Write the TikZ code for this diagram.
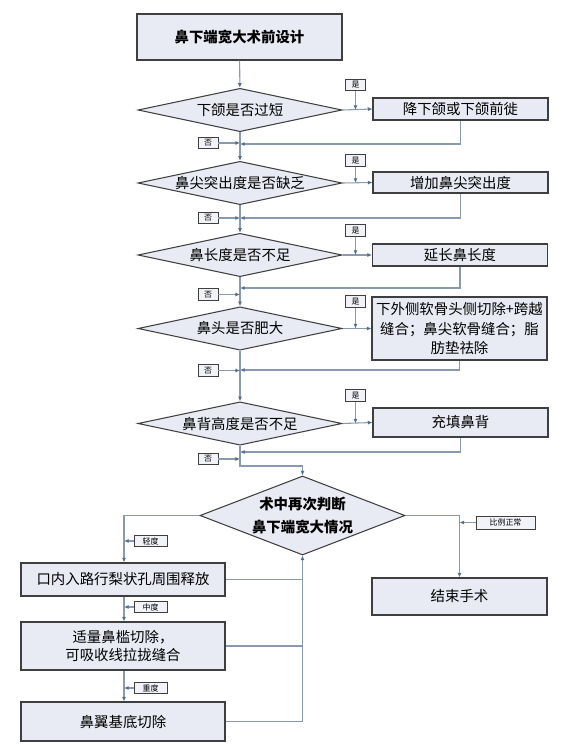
\documentclass[tikz,border=0pt]{standalone}
\usepackage{fontspec}
\setmainfont{Noto Sans CJK SC}
\usetikzlibrary{arrows.meta, shapes.geometric}
\definecolor{boxfill}{HTML}{E8EBF3}
\definecolor{boxline}{HTML}{3F3F3F}
\definecolor{wire}{HTML}{8A9AAE}
\definecolor{tipc}{HTML}{4F6E8E}

\begin{document}
\begin{tikzpicture}[x=0.03cm, y=-0.03cm, font=\fontsize{12.3}{15}\selectfont,
  proc/.style={draw=boxline, line width=0.9pt, fill=boxfill, minimum width=5.25cm, minimum height=0.66cm, inner sep=0pt, align=center},
  ask/.style={diamond, draw=boxline, line width=0.9pt, fill=boxfill, minimum width=6.12cm, minimum height=1.3cm, aspect=4.6, inner sep=0pt, align=center},
  tag/.style={draw=boxline, line width=0.6pt, fill=boxfill!60, font=\fontsize{6.8}{7}\selectfont, minimum width=0.6cm, minimum height=0.34cm, inner sep=0pt},
  flow/.style={wire, line width=0.9pt, -{Latex[length=4pt, width=3.5pt, color=tipc]}},
  link/.style={wire, line width=0.9pt}]

  \useasboundingbox (0,0) rectangle (570,745);

  % --- start ---
  \node[proc, font=\fontsize{12.3}{15}\selectfont\bfseries, minimum width=6.15cm, minimum height=1.38cm] (start) at (239.5,37) {鼻下端宽大术前设计};

  % --- pre-operative checks ---
  \node[ask] (q1) at (240,110) {下颌是否过短};
  \node[proc] (a1) at (460.5,109) {降下颌或下颌前徙};
  \node[ask] (q2) at (240,183) {鼻尖突出度是否缺乏};
  \node[proc, minimum height=0.63cm] (a2) at (460.5,182.5) {增加鼻尖突出度};
  \node[ask] (q3) at (240,255) {鼻长度是否不足};
  \node[proc] (a3) at (460,255) {延长鼻长度};
  \node[ask] (q4) at (240,328.5) {鼻头是否肥大};
  \node[proc, minimum height=1.89cm, font=\fontsize{12.3}{16.5}\selectfont] (a4) at (459.5,328.5) {下外侧软骨头侧切除+跨越\\缝合；鼻尖软骨缝合；脂\\肪垫祛除};
  \node[ask] (q5) at (240,423.5) {鼻背高度是否不足};
  \node[proc, minimum height=0.87cm] (a5) at (460.5,422.5) {充填鼻背};

  % --- yes / no tags ---
  \foreach \i/\ty/\ny in {1/85/143, 2/160.5/218, 3/230.5/294.5, 4/301.5/370.5, 5/395.5/459}{
    \node[tag] (yes\i) at (355.5,\ty) {是};
    \node[tag] (no\i) at (208,\ny) {否};
    \coordinate (yhit\i) at (yes\i |- q\i.east);
    \coordinate (nhit\i) at (240,\ny);
  }
  \coordinate (m1) at (240,144);
  \coordinate (m2) at (240,218);
  \coordinate (m3) at (240,288);
  \coordinate (m4) at (240,370);
  \coordinate (m5) at (240,452);

  \draw[flow] (start) -- (q1);
  \foreach \i/\j in {1/2, 2/3, 3/4, 4/5}{
    \draw[flow] (q\i) -- (q\j);
  }
  \foreach \i in {1,...,5}{
    \draw[flow] (q\i.east) -- (a\i.west);
    \draw[flow] (yes\i) -- (yhit\i);
    \draw[flow] (no\i) -- (nhit\i);
    \draw[flow] (a\i.south) |- (m\i);
  }

  % --- intra-operative check ---
  \node[ask, font=\fontsize{12.3}{19}\selectfont\bfseries, minimum width=6.15cm, minimum height=2.37cm, aspect=2.6] (q6) at (302.5,515.5) {术中再次判断\\鼻下端宽大情况};
  \coordinate (turn) at (240,466);
  \draw[flow] (q5.south) -- (turn) -| (q6.north);

  \node[proc, minimum width=6.12cm, minimum height=0.99cm] (b1) at (123,579.5) {口内入路行梨状孔周围释放};
  \node[proc, minimum width=6.12cm, minimum height=1.44cm] (b2) at (123,646) {适量鼻槛切除，\\可吸收线拉拢缝合};
  \node[proc, minimum width=6.12cm, minimum height=1.17cm] (b3) at (123,721.5) {鼻翼基底切除};
  \node[proc, minimum height=1.11cm] (stop) at (459.5,596.5) {结束手术};

  \node[tag, minimum width=0.99cm] (mild) at (150.5,541) {轻度};
  \node[tag, minimum width=0.99cm] (mid) at (150.5,607) {中度};
  \node[tag, minimum width=0.99cm] (hard) at (150.5,688) {重度};
  \node[tag, minimum width=1.77cm, minimum height=0.39cm] (fine) at (505.5,522.5) {比例正常};

  \coordinate (lcol) at (124,515.5);
  \coordinate (rcol) at (459.5,515.5);
  \draw[flow] (q6.west) -- (lcol) -- (lcol |- b1.north);
  \draw[flow] (b1.south -| lcol) -- (b2.north -| lcol);
  \draw[flow] (b2.south -| lcol) -- (b3.north -| lcol);
  \draw[flow] (mild) -- (lcol |- mild);
  \draw[flow] (mid) -- (lcol |- mid);
  \draw[flow] (hard) -- (lcol |- hard);

  \draw[flow] (q6.east) -- (rcol) -- (stop.north);
  \draw[flow] (fine) -- (rcol |- fine);

  % --- back to the check ---
  \draw[link] (b1.east) -- (b1.east -| q6.south);
  \draw[link] (b2.east) -- (b2.east -| q6.south);
  \draw[flow] (b3.east) -| (q6.south);
\end{tikzpicture}
\end{document}
